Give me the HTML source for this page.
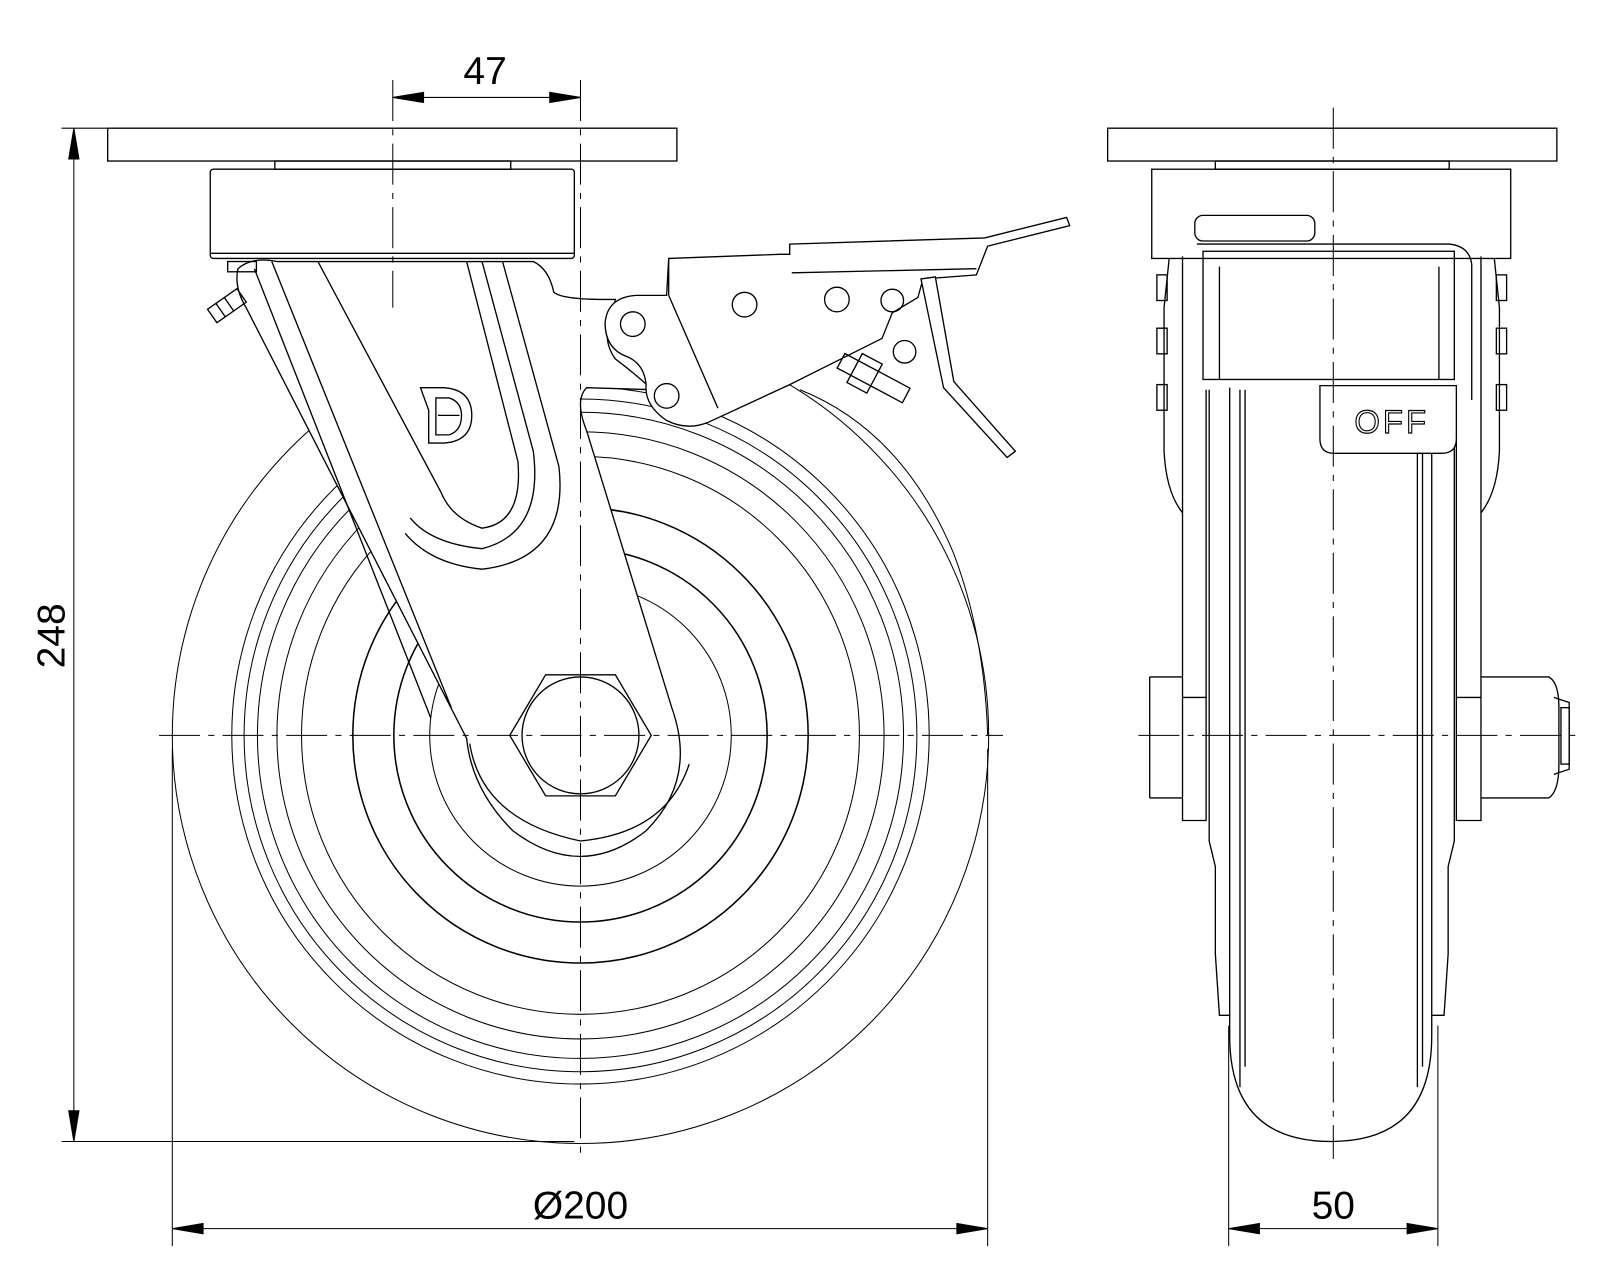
<!DOCTYPE html>
<html><head><meta charset="utf-8"><style>
html,body{margin:0;padding:0;background:#fff;}
svg{display:block}
text{font-family:"Liberation Sans",sans-serif}
</style></head><body>
<svg width="1600" height="1280" viewBox="0 0 1600 1280" xmlns="http://www.w3.org/2000/svg">
<g transform="scale(1.0256)">
<g fill="none" stroke="#000" stroke-width="1.3">
<rect x="105" y="125" width="555" height="32"/>
<rect x="268" y="157" width="230" height="8"/>
<rect x="205" y="165" width="355" height="87" rx="3"/>
<line x1="205" y1="247" x2="560" y2="247"/>
<g stroke-width="1">
<circle cx="566" cy="717" r="398"/>
<circle cx="566" cy="717" r="340"/>
<circle cx="566" cy="717" r="328"/>
<circle cx="566" cy="717" r="315"/>
<circle cx="566" cy="717" r="296"/>
<circle cx="566" cy="717" r="272"/>
<circle cx="566" cy="717" r="222" stroke-width="1.5"/>
<circle cx="566" cy="717" r="182" stroke-width="1.5"/>
<circle cx="566" cy="717" r="147"/>
</g>
<path d="M232,262 Q245,250 270,255 L520,255 Q535,262 540,285 Q548,292 590,292 L600,292 L598,300 Q585,330 600,350 Q620,365 636,380 L572,378 Q560,390 572,420 L655,690 Q680,760 630,810 Q566,860 500,810 Q460,770 455,720 L240,300 Q228,280 232,262 Z" fill="#fff"/>
<path d="M248,262 L420,700"/>
<path d="M265,255 L440,690"/>
<path d="M455,255 L505,450 Q510,510 470,515 Q440,505 430,480 L310,255"/>
<path d="M470,255 L520,440 Q530,520 470,535 Q420,530 400,505"/>
<path d="M490,255 L545,455 Q555,545 470,555 Q420,550 395,520"/>
<path d="M410,378 L433,378 Q460,380 460,405 Q460,430 433,432 L418,432 L418,400 Z"/>
<path d="M425,388 L438,388 Q450,392 450,405 Q450,420 438,424 L425,424 Z"/>
<line x1="427" y1="405" x2="448" y2="405"/>
<polygon points="497,717 532,658 600,658 635,717 600,776 532,776" fill="#fff"/>
<circle cx="566" cy="717" r="57"/>
<path d="M458,725 Q470,800 566,820 Q650,812 672,745"/>
<g transform="rotate(-35 222 300)"><rect x="205" y="290" width="35" height="16"/><line x1="215" y1="290" x2="215" y2="306"/><line x1="225" y1="290" x2="225" y2="306"/></g>
<rect x="222" y="255" width="28" height="10"/>
<path d="M652,252 L760,248 L770,248 L770,238 L960,232 L1040,212 L1043,220 L963,240 L952,268 L900,272 L895,290 L870,305 L860,330 L770,375 L690,412 Q670,420 650,410 Q628,395 630,375 Q628,355 612,348 Q590,340 590,315 Q592,290 620,288 L650,288 Z" fill="#fff"/>
<line x1="772" y1="266" x2="952" y2="262"/>
<line x1="652" y1="252" x2="652" y2="288"/>
<line x1="652" y1="288" x2="700" y2="398"/>
<circle cx="617" cy="316" r="12"/>
<circle cx="726" cy="297" r="12"/>
<circle cx="816" cy="292" r="12"/>
<circle cx="870" cy="293" r="11"/>
<circle cx="882" cy="343" r="11"/>
<circle cx="650" cy="386" r="12"/>
<path d="M898,272 L912,270 L930,372 L990,440 L982,446 L920,378 Z" fill="#fff"/>
<g transform="rotate(28 850 370)"><rect x="815" y="360" width="72" height="16"/><rect x="830" y="352" width="22" height="32"/></g>
<path d="M780,380 Q880,420 930,540 Q960,620 963,717" stroke-width="1"/>
<g transform="translate(-5,0)">
<rect x="1085" y="125" width="438" height="32"/>
<rect x="1190" y="157" width="228" height="8"/>
<rect x="1128" y="165" width="350" height="87"/>
<rect x="1170" y="210" width="117" height="25" rx="8"/>
<path d="M1172,238 L1418,238 Q1438,240 1440,258 L1440,390"/>
<rect x="1178" y="245" width="245" height="125"/>
<line x1="1194" y1="260" x2="1194" y2="370"/>
<line x1="1408" y1="260" x2="1408" y2="370"/>
<path d="M1158,250 L1158,800 L1181,800 L1181,380"/>
<path d="M1449,250 L1449,800 L1425,800 L1425,380"/>
<path d="M1145,252 L1140,300 L1140,440 Q1142,480 1158,500"/>
<path d="M1462,252 L1467,300 L1467,440 Q1465,480 1449,500"/>
<rect x="1133" y="268" width="10" height="25"/><rect x="1133" y="320" width="10" height="25"/>
<rect x="1133" y="375" width="10" height="25"/>
<rect x="1464" y="268" width="10" height="25"/><rect x="1464" y="320" width="10" height="25"/>
<rect x="1464" y="375" width="10" height="25"/>
<path d="M1204,378 L1204,1010 Q1204,1113 1303,1113 Q1401,1113 1401,1010 L1401,378"/>
<path d="M1184,380 L1184,820 L1190,845 L1190,930 L1194,990 L1204,990"/>
<path d="M1423,380 L1423,820 L1417,845 L1417,930 L1413,990 L1401,990"/>
<line x1="1214" y1="380" x2="1214" y2="1060"/>
<line x1="1219" y1="380" x2="1219" y2="1040"/>
<line x1="1392" y1="440" x2="1392" y2="1040"/>
<line x1="1387" y1="440" x2="1387" y2="1060"/>
<path d="M1292,376 L1425,376 L1425,428 Q1425,442 1410,442 L1306,442 Q1292,442 1292,428 Z" fill="#fff"/>
<path d="M1126,660 L1158,660 M1126,778 L1158,778 M1126,660 L1126,778"/>
<line x1="1158" y1="680" x2="1181" y2="680"/>
<path d="M1449,660 L1515,660 Q1525,665 1525,690 L1525,745 Q1525,772 1515,778 L1449,778"/>
<line x1="1425" y1="680" x2="1449" y2="680"/>
<path d="M1520,680 L1535,685 L1535,750 L1520,755"/>
<rect x="1527" y="690" width="8" height="55"/>
</g>
</g>
<text x="1357" y="422" font-size="32" text-anchor="middle" style="fill:#fff;stroke:#000;stroke-width:1.1" letter-spacing="3">OFF</text>
<g stroke="#000" stroke-width="1" stroke-dasharray="40,8,6,8" fill="none">
<line x1="566" y1="78" x2="566" y2="1125"/>
<line x1="383" y1="78" x2="383" y2="300"/>
<line x1="155" y1="717" x2="978" y2="717"/>
<line x1="1300" y1="105" x2="1300" y2="1130"/>
<line x1="1110" y1="717" x2="1540" y2="717"/>
</g>
<g stroke="#000" stroke-width="1" fill="#000">
<line x1="383" y1="95" x2="566" y2="95"/>
<polygon points="383,95 413,90 413,100"/><polygon points="566,95 536,90 536,100"/>
<line x1="72" y1="125" x2="72" y2="1113"/>
<line x1="60" y1="125" x2="105" y2="125"/>
<line x1="60" y1="1113" x2="560" y2="1113"/>
<polygon points="72,125 67,155 77,155"/><polygon points="72,1113 67,1083 77,1083"/>
<line x1="168" y1="730" x2="168" y2="1215"/>
<line x1="963" y1="730" x2="963" y2="1215"/>
<line x1="168" y1="1198" x2="963" y2="1198"/>
<polygon points="168,1198 198,1193 198,1203"/><polygon points="963,1198 933,1193 933,1203"/>
<line x1="1198" y1="1000" x2="1198" y2="1215"/>
<line x1="1402" y1="1000" x2="1402" y2="1215"/>
<line x1="1198" y1="1198" x2="1402" y2="1198"/>
<polygon points="1198,1198 1228,1193 1228,1203"/><polygon points="1402,1198 1372,1193 1372,1203"/>
</g>
<g fill="#000">
<text x="473" y="82" font-size="38" text-anchor="middle">47</text>
<text x="566" y="1188" font-size="38" text-anchor="middle">Ø200</text>
<text x="1300" y="1188" font-size="38" text-anchor="middle">50</text>
<text x="0" y="0" font-size="38" text-anchor="middle" transform="translate(63,620) rotate(-90)">248</text>
</g>
</g>
</svg>
</body></html>
